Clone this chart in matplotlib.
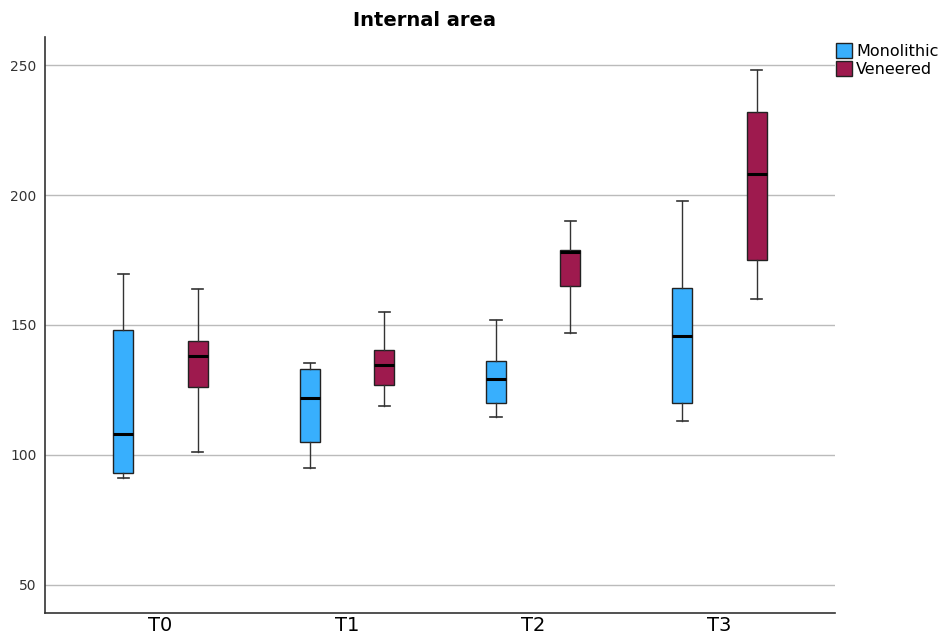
import matplotlib
matplotlib.use("Agg")
import matplotlib.pyplot as plt
from matplotlib.patches import Patch

times = ["T0", "T1", "T2", "T3"]
groups = ["Monolithic", "Veneered"]
colors = ["#38AFFD", "#9E1A4E"]

# five-number summaries: low whisker, q1, median, q3, high whisker
mono_lo = [91, 95, 114.7, 113]
mono_q1 = [93, 105, 120, 120]
mono_med = [108, 122, 129.2, 145.8]
mono_q3 = [148, 133, 136.2, 164.2]
mono_hi = [169.6, 135.3, 152, 197.8]

ven_lo = [101, 118.8, 146.8, 160]
ven_q1 = [126, 127, 165, 175]
ven_med = [138, 134.5, 178, 208.2]
ven_q3 = [144, 140.3, 179, 231.8]
ven_hi = [164, 155, 190, 248]


def make_stats(lo, q1, med, q3, hi):
	out = []
	for i in range(len(lo)):
		out.append({"whislo": lo[i], "q1": q1[i], "med": med[i], "q3": q3[i], "whishi": hi[i], "fliers": []})
	return out


fig = plt.figure(figsize=(9.46, 6.42), dpi=100)
ax = fig.add_axes([0.0476, 0.0452, 0.8351, 0.8972])

all_stats = [make_stats(mono_lo, mono_q1, mono_med, mono_q3, mono_hi),
	make_stats(ven_lo, ven_q1, ven_med, ven_q3, ven_hi)]
offsets = [-0.2, 0.2]
for g in range(2):
	pos = [i + offsets[g] for i in range(len(times))]
	ax.bxp(all_stats[g], positions=pos, widths=0.107, capwidths=0.06, patch_artist=True,
		boxprops=dict(facecolor=colors[g], edgecolor="#222222", linewidth=1.0),
		medianprops=dict(color="black", linewidth=2.2),
		whiskerprops=dict(color="#333333", linewidth=1.0),
		capprops=dict(color="#333333", linewidth=1.2),
		showfliers=False, manage_ticks=False, zorder=3)

ax.set_xlim(-0.62, 3.62)
ax.set_ylim(39.2, 260.8)
ax.set_xticks(range(len(times)))
ax.set_xticklabels(times, fontsize=14)
ax.set_yticks([50, 100, 150, 200, 250])
ax.tick_params(axis="y", length=0, labelsize=10, colors="#333333", pad=6)
ax.tick_params(axis="x", length=0, pad=2)
ax.yaxis.grid(True, color="#bbbbbb", linewidth=1.0, zorder=0)
ax.set_axisbelow(True)
for s in ["top", "right"]:
	ax.spines[s].set_visible(False)
for s in ["left", "bottom"]:
	ax.spines[s].set_color("#333333")
	ax.spines[s].set_linewidth(1.2)

ax.set_title("Internal area", fontsize=14, fontweight="bold", pad=8, x=0.48)

handles = [Patch(facecolor=colors[g], edgecolor="#222222", label=groups[g]) for g in range(2)]
fig.legend(handles=handles, loc="upper left", bbox_to_anchor=(0.874, 0.948), frameon=False,
	fontsize=11.5, handlelength=1.0, handleheight=1.1, handletextpad=0.25, labelspacing=0.1, borderpad=0.1)

fig.savefig("out.png", dpi=100)
